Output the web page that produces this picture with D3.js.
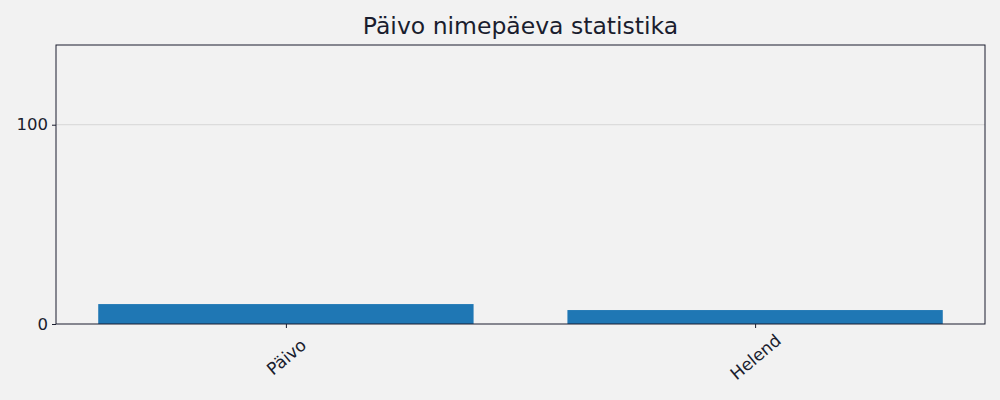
<!DOCTYPE html>
<html>
<head>
<meta charset="utf-8">
<script src="https://cdn.jsdelivr.net/npm/d3@7"></script>
<style>
  body { margin: 0; background: #f2f2f2; }
  text { font-family: "DejaVu Sans", sans-serif; fill: #1a1d2e; }
</style>
</head>
<body>
<div id="chart"></div>
<script>
var names = ["Päivo", "Helend"];
var counts = [10, 7];
var yTicks = [0, 100];
var title = "Päivo nimepäeva statistika";

var W = 1000, H = 400;
var margin = {top: 45, right: 15, bottom: 76, left: 56};
var width = W - margin.left - margin.right,
  height = H - margin.top - margin.bottom;

var svg = d3.select("#chart").append("svg")
  .attr("width", W).attr("height", H)
  .style("background", "#f2f2f2");

var g = svg.append("g").attr("transform", "translate(" + margin.left + "," + margin.top + ")");

// category index on a linear scale, bars are 0.8 wide
var x = d3.scaleLinear().domain([-0.49, names.length - 1 + 0.49]).range([0, width]);
var y = d3.scaleLinear().domain([0, 140]).range([height, 0]);

// grid
g.selectAll(".grid").data(yTicks.filter(function(d){ return d > 0; }))
  .enter().append("line")
  .attr("x1", 0).attr("x2", width)
  .attr("y1", function(d){ return y(d); }).attr("y2", function(d){ return y(d); })
  .attr("stroke", "#d6d6d6").attr("stroke-width", 1);

// bars
g.selectAll(".bar").data(counts).enter().append("rect")
  .attr("x", function(d, i){ return x(i - 0.4); })
  .attr("width", function(d, i){ return x(i + 0.4) - x(i - 0.4); })
  .attr("y", function(d){ return y(d); })
  .attr("height", function(d){ return height - y(d); })
  .attr("fill", "#1f77b4");

// frame
g.append("rect").attr("width", width).attr("height", height)
  .attr("fill", "none").attr("stroke", "#1a1d2e").attr("stroke-width", 1);

// y axis
var yAxis = g.append("g").call(d3.axisLeft(y).tickValues(yTicks).tickSize(4).tickPadding(4));
yAxis.select(".domain").remove();
yAxis.selectAll("line").attr("stroke", "#1a1d2e");
yAxis.selectAll("text").style("font-size", "16.5px").attr("fill", "#1a1d2e");

// x axis
var xAxis = g.append("g").attr("transform", "translate(0," + height + ")")
  .call(d3.axisBottom(x).tickValues(d3.range(names.length)).tickSize(4)
    .tickFormat(function(i){ return names[i]; }));
xAxis.select(".domain").remove();
xAxis.selectAll("line").attr("stroke", "#1a1d2e");
xAxis.selectAll("text")
  .style("font-size", "17px").attr("fill", "#1a1d2e")
  .attr("y", 33).attr("dy", "0.35em")
  .attr("text-anchor", "middle")
  .attr("transform", "rotate(-40,0,33)");

// title
svg.append("text").attr("x", margin.left + width / 2).attr("y", 34)
  .attr("text-anchor", "middle").style("font-size", "23.5px").text(title);
</script>
</body>
</html>
